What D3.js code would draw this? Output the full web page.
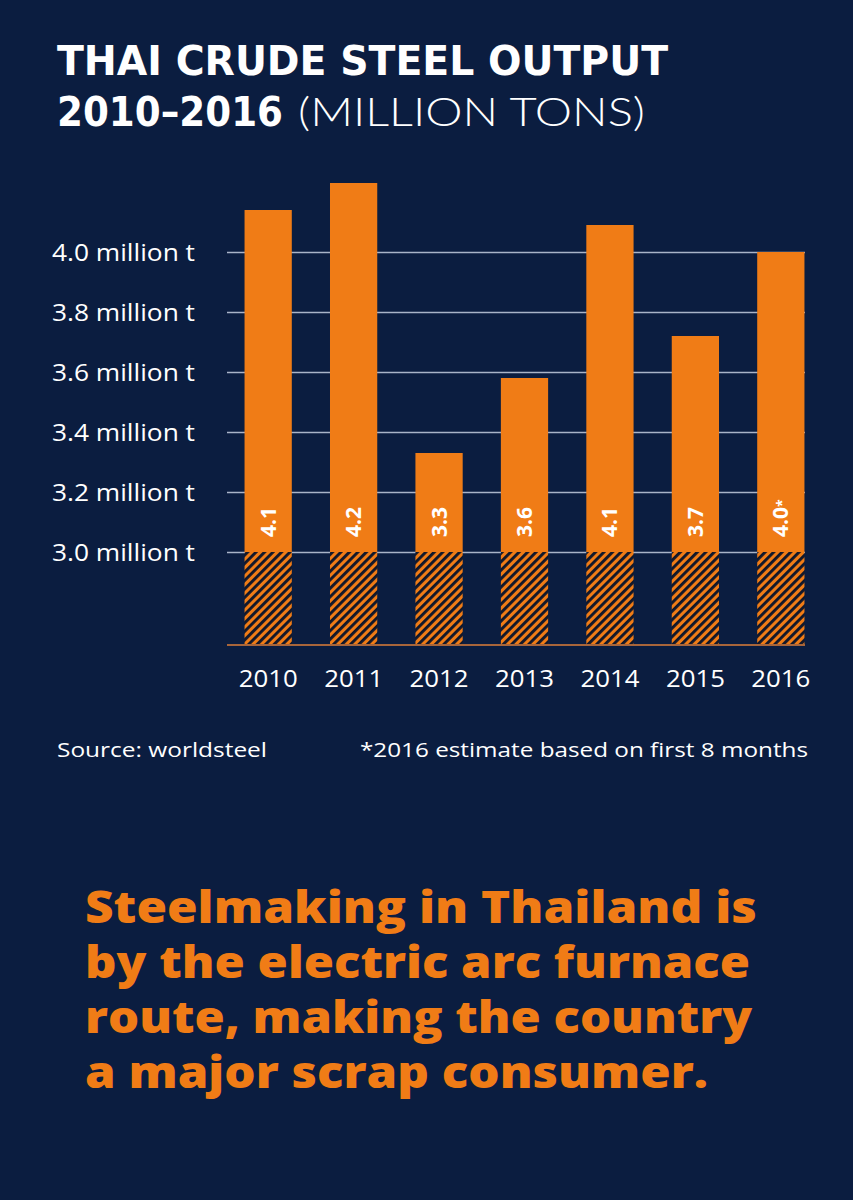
<!DOCTYPE html>
<html><head><meta charset="utf-8">
<script src="https://cdn.jsdelivr.net/npm/d3@7"></script>
<style>
html,body{margin:0;padding:0;background:#0b1d40;}
svg{display:block;}
</style></head>
<body>
<script>
const years = ["2010","2011","2012","2013","2014","2015","2016"];
const values = [4.14, 4.23, 3.33, 3.58, 4.09, 3.72, 4.0];
const barLabels = ["4.1","4.2","3.3","3.6","4.1","3.7","4.0"];
const labelStar = [false,false,false,false,false,false,true];
const yTicks = [3.0, 3.2, 3.4, 3.6, 3.8, 4.0];
const yTickLabels = ["3.0 million t","3.2 million t","3.4 million t","3.6 million t","3.8 million t","4.0 million t"];
const titleLine1 = "THAI CRUDE STEEL OUTPUT";
const titleBold2 = "2010–2016";
const titleLight2 = "(MILLION TONS)";
const sourceText = "Source: worldsteel";
const noteText = "*2016 estimate based on first 8 months";
const headline = ["Steelmaking in Thailand is","by the electric arc furnace","route, making the country","a major scrap consumer."];
const headlineWidths = [672, 665, 667, 623];

const W = 853, H = 1200;
const BG = "#0b1d40", ORANGE = "#f07c16", GRID = "#a9b4c8";
const svg = d3.select("body").append("svg").attr("width", W).attr("height", H);
svg.append("rect").attr("width", W).attr("height", H).attr("fill", BG);

const defs = svg.append("defs");
const pat = defs.append("pattern").attr("id","hatch").attr("patternUnits","userSpaceOnUse")
  .attr("width",6).attr("height",10).attr("patternTransform","rotate(45)");
pat.append("rect").attr("width",6).attr("height",10).attr("fill",ORANGE);
pat.append("rect").attr("width",2.9).attr("height",10).attr("fill","#10172b");

const font = "'Open Sans', Lato, sans-serif";
const bold = "'Open Sans', 'DejaVu Sans', sans-serif";
const titleBoldFont = "'DejaVu Sans', 'Open Sans', sans-serif";
const titleLightFont = "Lato, 'Open Sans', sans-serif";
function fit(sel, w){ return sel.attr("textLength", w).attr("lengthAdjust","spacingAndGlyphs"); }

// Title
fit(svg.append("text").attr("x",57).attr("y",75).attr("font-family",titleBoldFont).attr("font-weight",700)
  .attr("font-size",41).attr("fill","#fff").text(titleLine1), 611);
fit(svg.append("text").attr("x",57).attr("y",125.5).attr("font-family",titleBoldFont).attr("font-weight",700)
  .attr("font-size",41).attr("fill","#fff").text(titleBold2), 226);
fit(svg.append("text").attr("x",298).attr("y",125.5).attr("font-family",titleLightFont).attr("font-weight",300)
  .attr("font-size",40).attr("fill","#fff").text(titleLight2), 347);

// Scales
const x = d3.scaleBand().domain(years).range([236, 813]).paddingInner(0.447).paddingOuter(0.1);
const y = d3.scaleLinear().domain([3.0, 4.0]).range([552, 252]);
const baseY = 645;
const gridX0 = 227, gridX1 = 805;

// gridlines + y labels
const yAxis = d3.axisLeft(y).tickValues(yTicks).tickSize(0).tickFormat((d,i)=>yTickLabels[i]);
const gy = svg.append("g").attr("transform",`translate(${gridX0},0)`).call(yAxis);
gy.select(".domain").remove();
gy.selectAll(".tick line").attr("stroke",GRID).attr("stroke-width",1.6).attr("x1",0).attr("x2",gridX1-gridX0);
gy.selectAll(".tick text").attr("fill","#fff").attr("font-family",font).attr("font-size",23)
  .attr("font-weight",400).attr("text-anchor","start").attr("x",52-gridX0).attr("dy","0.36em")
  .attr("textLength",143).attr("lengthAdjust","spacingAndGlyphs");

// baseline
svg.append("line").attr("x1",gridX0).attr("x2",gridX1).attr("y1",baseY).attr("y2",baseY)
  .attr("stroke","#a8653a").attr("stroke-width",2);

// bars
const bars = svg.append("g");
years.forEach((yr,i)=>{
  bars.append("rect").attr("x",x(yr)).attr("width",x.bandwidth()).attr("y",y(values[i]))
    .attr("height",y(3.0)-y(values[i])).attr("fill",ORANGE);
  bars.append("rect").attr("x",x(yr)).attr("width",x.bandwidth()).attr("y",y(3.0))
    .attr("height",baseY-1-y(3.0)).attr("fill","url(#hatch)");
  const cx = x(yr)+x.bandwidth()/2, cy = y(3.0)-15;
  const t = bars.append("text").attr("transform",`translate(${cx+7.5},${cy}) rotate(-90)`)
    .attr("font-family",bold).attr("font-weight",700).attr("font-size",21).attr("fill","#fff")
    .attr("text-anchor","start").text(barLabels[i]);
  if(labelStar[i]) t.append("tspan").attr("font-size",14).attr("dy",-1).text("*");
});

// x axis labels
const xAxis = d3.axisBottom(x).tickSize(0).tickPadding(0);
const gx = svg.append("g").attr("transform",`translate(0,${baseY+42})`).call(xAxis);
gx.select(".domain").remove();
gx.selectAll(".tick text").attr("fill","#fff").attr("font-family",font).attr("font-size",23)
  .attr("font-weight",400).attr("dy",0).attr("textLength",59).attr("lengthAdjust","spacingAndGlyphs");

// footnotes
fit(svg.append("text").attr("x",57).attr("y",757).attr("font-family",font).attr("font-size",20)
  .attr("fill","#fff").text(sourceText), 210);
fit(svg.append("text").attr("x",360).attr("y",757).attr("font-family",font).attr("font-size",20)
  .attr("fill","#fff").text(noteText), 448);

// headline
headline.forEach((l,i)=>{
  fit(svg.append("text").attr("x",85).attr("y",923+i*55).attr("font-family",bold).attr("font-weight",800)
    .attr("font-size",45).attr("fill",ORANGE).text(l), headlineWidths[i]);
});
</script>
</body></html>
